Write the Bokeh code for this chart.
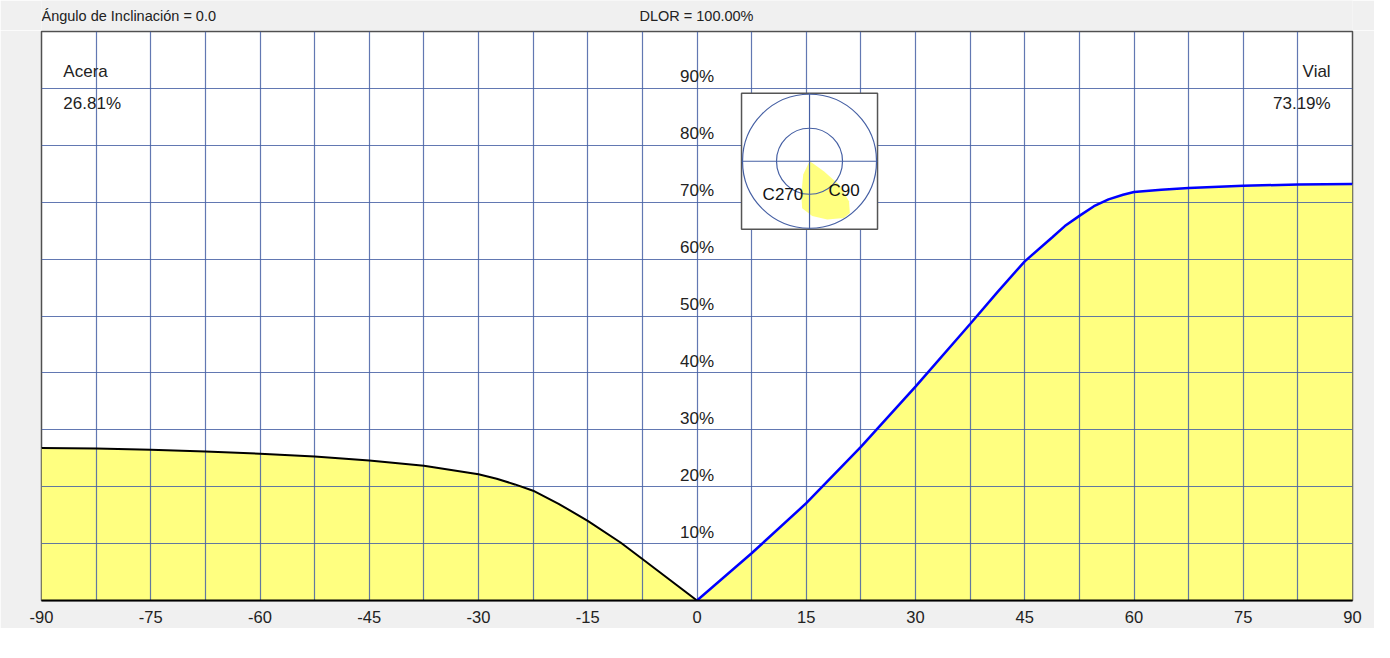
import numpy as np
from bokeh.plotting import figure
from bokeh.layouts import column
from bokeh.models import Label, Range1d, FixedTicker
from bokeh.core.properties import value
from bokeh.embed import file_html
from bokeh.resources import INLINE

# ---------------- data ----------------
acera_angles = [-90, -82.5, -75, -67.5, -60, -52.5, -45, -37.5, -30, -27.5, -25, -22.5, -19, -15, -10.5, -7.5, 0]
acera_pct = [26.81, 26.7, 26.5, 26.2, 25.8, 25.3, 24.6, 23.7, 22.2, 21.4, 20.4, 19.3, 17.0, 14.0, 10.2, 7.3, 0.0]

vial_angles = [0, 7.5, 15, 22.5, 30, 37.5, 41.25, 45, 48.75, 50.5, 52.5, 54.5, 56.5, 58.5, 60, 63.75, 67.5, 75, 82.5, 90]
vial_pct = [0.0, 8.3, 17.1, 27.0, 37.6, 48.6, 54.2, 59.6, 63.8, 65.8, 67.6, 69.3, 70.5, 71.3, 71.8, 72.2, 72.5, 72.9, 73.1, 73.19]

x_ticks = [-90, -75, -60, -45, -30, -15, 0, 15, 30, 45, 60, 75, 90]
x_tick_labels = ["-90", "-75", "-60", "-45", "-30", "-15", "0", "15", "30", "45", "60", "75", "90"]
pct_ticks = [10, 20, 30, 40, 50, 60, 70, 80, 90]
pct_labels = ["10%", "20%", "30%", "40%", "50%", "60%", "70%", "80%", "90%"]

acera_name = "Acera"
acera_total = "26.81%"
vial_name = "Vial"
vial_total = "73.19%"
header_left = "Ángulo de Inclinación = 0.0"
header_right = "DLOR = 100.00%"
polar_c_labels = ["C270", "C90"]

# polar intensity lobe (angle from nadir in degrees, + toward C90; relative intensity)
polar_angles = [-25.3, -14.0, -8.9, 2.8, 16.9, 31.2, 37.9, 44.5, 51.5, 55.0, 57.8]
polar_rel = [0.22, 0.51, 0.71, 0.82, 0.91, 0.99, 0.98, 0.84, 0.56, 0.26, 0.05]

# ---------------- layout ----------------
W = 1374
HEAD_H = 30
H = 598
ML, MR, MT, MB = 41, 22, 1, 28
FW = W - ML - MR
FH = H - MT - MB
sx = FW / 180.0
sy = FH / 100.0

FONT = value("Liberation Sans")
GRID = "#4660A4"
YELLOW = "#FFFF80"
BG = "#F0F0F0"
TXT = "#222222"

xr = Range1d(-90, 90)

# ---------------- header strip ----------------
h = figure(width=W, height=HEAD_H, output_backend="svg", toolbar_location=None,
           x_range=xr, y_range=Range1d(0, 1), x_axis_location=None, y_axis_location=None,
           min_border_left=ML, min_border_right=MR, min_border_top=0, min_border_bottom=0)
h.border_fill_color = BG
h.background_fill_color = BG
h.outline_line_color = None
h.xgrid.visible = False
h.ygrid.visible = False
h.text(x=[-90.0, -7.9], y=[0.5, 0.5], text=[header_left, header_right], text_align="left",
       text_baseline="middle", text_font=FONT, text_font_size="14.5px", text_color=TXT)

# ---------------- main chart ----------------
p = figure(width=W, height=H, output_backend="svg", toolbar_location=None,
           x_range=xr, y_range=Range1d(0, 100),
           y_axis_location=None, min_border_left=ML, min_border_right=MR,
           min_border_top=MT, min_border_bottom=MB)
p.border_fill_color = BG
p.background_fill_color = "white"
p.outline_line_color = "#505050"
p.outline_line_width = 1.5

p.xaxis.ticker = FixedTicker(ticks=x_ticks)
p.xaxis.major_label_overrides = {t: s for t, s in zip(x_ticks, x_tick_labels)}
p.xaxis.major_tick_line_color = None
p.xaxis.minor_tick_line_color = None
p.xaxis.axis_line_color = "black"
p.xaxis.axis_line_width = 2
p.xaxis.major_label_standoff = 4
p.xaxis.major_label_text_font = "Liberation Sans"
p.xaxis.major_label_text_font_size = "16.5px"
p.xaxis.major_label_text_color = TXT

p.xgrid.ticker = FixedTicker(ticks=list(np.arange(-90, 90.01, 7.5)))
p.ygrid.ticker = FixedTicker(ticks=list(range(0, 101, 10)))
for g in (p.xgrid, p.ygrid):
    g.grid_line_color = GRID
    g.grid_line_alpha = 0.85
    g.grid_line_width = 1.2

# filled areas under curves (drawn below grid)
r1 = p.varea(x=acera_angles, y1=[0] * len(acera_angles), y2=acera_pct, fill_color=YELLOW)
r2 = p.varea(x=vial_angles, y1=[0] * len(vial_angles), y2=vial_pct, fill_color=YELLOW)
r1.level = "image"
r2.level = "image"

# curves
p.line(acera_angles, acera_pct, line_color="black", line_width=2)
p.line(vial_angles, vial_pct, line_color="#0000FF", line_width=2.5)

# percentage labels along the 0 line
p.text(x=[0] * len(pct_ticks), y=pct_ticks, text=pct_labels, text_align="center",
       text_baseline="bottom", y_offset=-2, text_font=FONT, text_font_size="17px",
       text_color=TXT)

# ---------------- polar inset ----------------
cx, cy = 15.45, 77.2            # inset centre (data coords)
R_OUT, R_IN, HALF = 67, 33, 68  # pixels

p.rect(x=[cx], y=[cy], width=[2 * HALF], height=[2 * HALF], width_units="screen",
       height_units="screen", fill_color="white", line_color="#555555", line_width=1.5)

a = np.radians(polar_angles)
r = np.array(polar_rel) * R_OUT
lobe_x = [cx] + list(cx + r * np.sin(a) / sx) + [cx]
lobe_y = [cy] + list(cy - r * np.cos(a) / sy) + [cy]
p.patch(lobe_x, lobe_y, fill_color=YELLOW, line_color=None)

p.circle(x=[cx, cx], y=[cy, cy], radius=[R_OUT, R_IN], radius_units="screen",
         fill_color=None, line_color=GRID, line_width=1.2)
p.segment(x0=[cx - HALF / sx, cx], y0=[cy, cy - HALF / sy],
          x1=[cx + HALF / sx, cx], y1=[cy, cy + HALF / sy],
          line_color=GRID, line_width=1.2)

p.text(x=[11.8, 20.2], y=[71.35, 72.05], text=polar_c_labels, text_align="center",
       text_baseline="middle", text_font=FONT, text_font_size="17px", text_color="#111111")

# ---------------- labels ----------------
def lab(x, y, t, align="left", size="17px"):
    p.add_layout(Label(x=x, y=y, text=t, text_align=align, text_baseline="middle",
                       text_font="Liberation Sans", text_font_size=size,
                       text_color=TXT))

lab(-87.0, 93.05, acera_name)
lab(-87.0, 87.3, acera_total)
lab(87.0, 93.05, vial_name, align="right")
lab(87.0, 87.3, vial_total, align="right")

layout = column(h, p, spacing=0)
open("out.html", "w").write(file_html(layout, INLINE))
